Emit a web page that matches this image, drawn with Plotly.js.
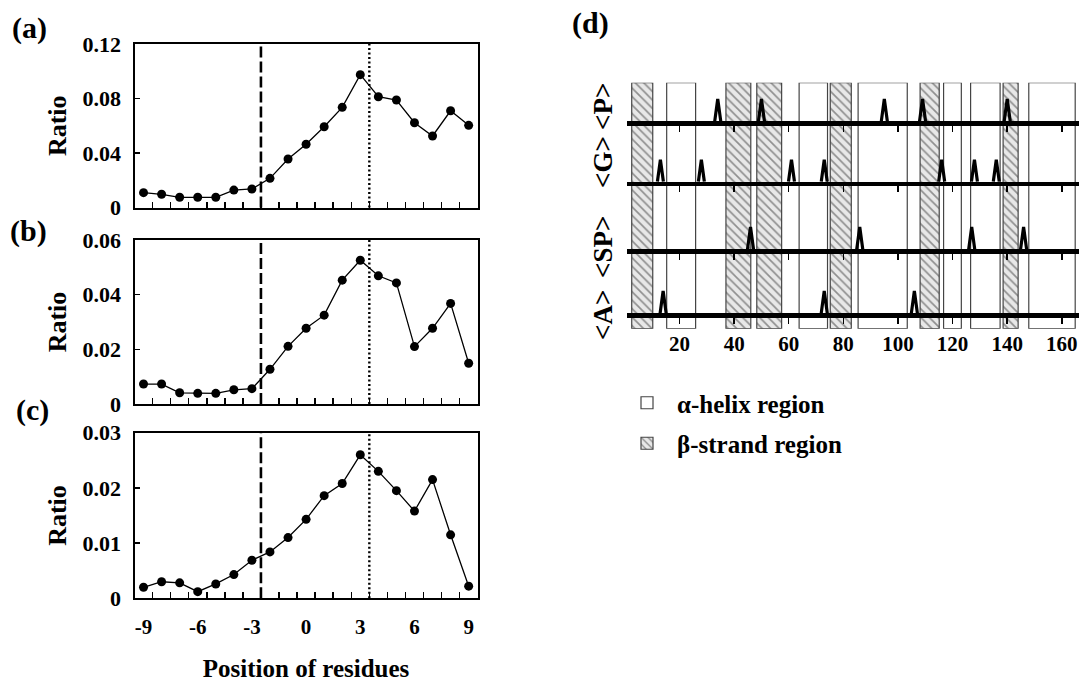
<!DOCTYPE html>
<html><head><meta charset="utf-8">
<script src="https://cdn.plot.ly/plotly-3.0.1.min.js"></script>
<style>html,body{margin:0;padding:0;background:#fff}#chart{width:1085px;height:682px}</style>
</head><body><div id="chart"></div>
<script>
// ---- Panels (a)-(c): ratio vs position of residues ----
const positions = [-9,-8,-7,-6,-5,-4,-3,-2,-1,0,1,2,3,4,5,6,7,8,9];
const ratioA = [0.0109,0.0097,0.0075,0.0075,0.0075,0.0128,0.0136,0.0214,0.0356,0.0464,0.0593,0.0735,0.0975,0.0813,0.0789,0.0622,0.0525,0.0710,0.0603];
const ratioB = [0.0073,0.0073,0.0041,0.0039,0.0039,0.0052,0.0056,0.0127,0.0211,0.0277,0.0325,0.0453,0.0526,0.0469,0.0443,0.0210,0.0277,0.0368,0.0149];
const ratioC = [0.0020,0.0030,0.0028,0.0012,0.0026,0.0043,0.0069,0.0084,0.0110,0.0143,0.0186,0.0208,0.0260,0.0230,0.0195,0.0158,0.0215,0.0115,0.0022];
const boundaryDashed = -2.5;
const boundaryDotted = 3.5;
const xTickVals = [-9,-6,-3,0,3,6,9];
const xTickText = ['-9','-6','-3','0','3','6','9'];
const xMinorTicks = [-8.5,-7.5,-6.5,-5.5,-4.5,-3.5,-2.5,-1.5,-0.5,0.5,1.5,2.5,3.5,4.5,5.5,6.5,7.5,8.5];
const yTicksA = [0,0.04,0.08,0.12], yTextA = ['0','0.04','0.08','0.12'];
const yTicksB = [0,0.02,0.04,0.06], yTextB = ['0','0.02','0.04','0.06'];
const yTicksC = [0,0.01,0.02,0.03], yTextC = ['0','0.01','0.02','0.03'];

// ---- Panel (d): secondary structure and peak positions ----
const helixStart = [15.3,63.8,85.4,116.7,126.6,147.9];
const helixEnd   = [25.9,74.2,103.4,123.2,137.4,164.9];
const strandStart = [2.5,37.0,48.3,75.2,108.1,138.5];
const strandEnd   = [10.2,46.1,57.4,82.9,115.1,144.0];
const peaksP  = [34,50,95,109,140];
const peaksG  = [13,28,61,73,116,128,136];
const peaksSP = [46,86,127,146];
const peaksA  = [14,73,106];
const rowLabels = ['<P>','<G>','<SP>','<A>'];
const dTickVals = [20,40,60,80,100,120,140,160];

// ---- helpers / layout geometry ----
const W = 1085, H = 682;
const px = v => v / W, py = v => 1 - v / H;
const FONT = 'Liberation Serif, Times New Roman, serif';

const xDomLeft = [px(134.5), px(477.7)];
const panelY = [[py(207.5), py(44)], [py(404), py(240)], [py(598.3), py(432.7)]];
const dX = [px(626.7), px(1079.3)];
const dRange = [0.66, 166.4];
const baselines = [123.3, 184, 251.3, 315.3];

const traces = [];
const series = [ratioA, ratioB, ratioC];
series.forEach((s, i) => {
  const sfx = i === 0 ? '' : String(i + 1);
  traces.push({x: positions, y: s, xaxis: 'x' + sfx, yaxis: 'y' + sfx, type: 'scatter',
    mode: 'lines+markers', line: {color: 'black', width: 1.3}, marker: {color: 'black', size: 9},
    showlegend: false, hoverinfo: 'skip'});
});

// bars for helix / strand regions (subplot x4/y4)
const mids = (a, b) => a.map((v, i) => (v + b[i]) / 2);
const widths = (a, b) => a.map((v, i) => b[i] - v);
traces.push({type: 'bar', name: 'α-helix region', legendgroup: 'h', x: mids(helixStart, helixEnd),
  width: widths(helixStart, helixEnd), y: helixStart.map(() => 1), base: 0, xaxis: 'x4', yaxis: 'y4',
  marker: {color: 'white', line: {color: '#444', width: 1.2}}, cliponaxis: false, hoverinfo: 'skip'});
traces.push({type: 'bar', name: 'β-strand region', legendgroup: 's', x: mids(strandStart, strandEnd),
  width: widths(strandStart, strandEnd), y: strandStart.map(() => 1), base: 0, xaxis: 'x4', yaxis: 'y4',
  marker: {color: '#e2e2e2', line: {color: '#444', width: 1.2},
    pattern: {shape: '\\', fgcolor: '#8f8f8f', bgcolor: '#e8e8e8', size: 6, solidity: 0.28}},
  cliponaxis: false, hoverinfo: 'skip'});

// spike rows (subplots x5..x8)
const spikeHalfW = 1.1, spikeH = 0.74;
[peaksP, peaksG, peaksSP, peaksA].forEach((peaks, r) => {
  const xs = [], ys = [];
  peaks.forEach(p => { xs.push(p - spikeHalfW, p, p + spikeHalfW, null); ys.push(0, spikeH, 0, null); });
  traces.push({x: xs, y: ys, xaxis: 'x' + (5 + r), yaxis: 'y' + (5 + r), type: 'scatter', mode: 'lines',
    line: {color: 'black', width: 3.2}, showlegend: false, hoverinfo: 'skip', cliponaxis: false});
});

const layout = {
  width: W, height: H, margin: {l: 0, r: 0, t: 0, b: 0},
  paper_bgcolor: 'white', plot_bgcolor: 'rgba(0,0,0,0)',
  font: {family: FONT, size: 22, color: 'black', weight: 'bold'},
  barmode: 'overlay', showlegend: true,
  legend: {x: px(617), y: py(380), xanchor: 'left', yanchor: 'top', font: {family: FONT, size: 25, weight: 'bold'},
    bgcolor: 'rgba(0,0,0,0)', tracegroupgap: 5, traceorder: 'grouped', itemwidth: 50},
  shapes: [], annotations: []
};

const yTicks = [[yTicksA, yTextA, [0, 0.12]], [yTicksB, yTextB, [0, 0.06]], [yTicksC, yTextC, [0, 0.03]]];
for (let i = 0; i < 3; i++) {
  const sfx = i === 0 ? '' : String(i + 1);
  layout['xaxis' + sfx] = {domain: xDomLeft, range: [-9.5, 9.5], anchor: 'y' + sfx,
    showline: true, mirror: true, linewidth: 2, linecolor: 'black', showgrid: false, zeroline: false,
    tickmode: 'array', tickvals: xTickVals, ticktext: xTickText, ticks: '',
    showticklabels: i === 2, tickfont: {family: FONT, size: 21, weight: 'bold'}, ticklabelstandoff: 8,
    minor: {tickmode: 'array', tickvals: xMinorTicks, ticks: 'inside', ticklen: 6, tickwidth: 1.5, tickcolor: 'black', showgrid: false}};
  layout['yaxis' + sfx] = {domain: panelY[i], range: yTicks[i][2], anchor: 'x' + sfx,
    showline: true, mirror: true, linewidth: 2, linecolor: 'black', showgrid: false, zeroline: false,
    tickmode: 'array', tickvals: yTicks[i][0], ticktext: yTicks[i][1], ticks: 'inside', ticklen: 5, tickwidth: 1.5,
    tickcolor: 'black', tickfont: {family: FONT, size: 22, weight: 'bold'}, ticklabelstandoff: 7,
    title: {text: 'Ratio', font: {family: FONT, size: 26, weight: 'bold'}, standoff: 8}};
  layout.shapes.push({type: 'line', xref: 'x' + sfx, yref: 'y' + sfx + ' domain', x0: boundaryDashed, x1: boundaryDashed,
    y0: 0, y1: 1, line: {color: 'black', width: 2.6, dash: '11px,4px'}});
  layout.shapes.push({type: 'line', xref: 'x' + sfx, yref: 'y' + sfx + ' domain', x0: boundaryDotted, x1: boundaryDotted,
    y0: 0, y1: 1, line: {color: 'black', width: 2.4, dash: '2px,2.5px'}});
}
layout.xaxis3.title = {text: 'Position of residues', font: {family: FONT, size: 25, weight: 'bold'}, standoff: 24};

// panel (d) region bars axis
layout.xaxis4 = {domain: dX, range: dRange, anchor: 'y4', visible: false};
layout.yaxis4 = {domain: [py(328.7), py(82.7)], range: [0, 1], anchor: 'x4', visible: false};
// rows
baselines.forEach((b, r) => {
  const n = 5 + r;
  layout['xaxis' + n] = {domain: dX, range: dRange, anchor: 'y' + n, showline: true, linewidth: 4.5, linecolor: 'black',
    showgrid: false, zeroline: false, tickmode: 'array', tickvals: dTickVals, ticks: 'outside', ticklen: 6, tickwidth: 1.5,
    tickcolor: 'black', showticklabels: r === 3, tickfont: {family: FONT, size: 21, weight: 'bold'}, ticklabelstandoff: 2};
  layout['yaxis' + n] = {domain: [py(b - 2.2), py(b - 32.2)], range: [0, 1], anchor: 'x' + n, visible: false};
});

// panel labels
[['(a)', 29, 28], ['(b)', 28, 231], ['(c)', 32, 410], ['(d)', 590, 23]].forEach(([t, x, y]) => {
  layout.annotations.push({text: t, xref: 'paper', yref: 'paper', x: px(x), y: py(y), xanchor: 'center', yanchor: 'middle',
    showarrow: false, font: {family: FONT, size: 30, weight: 'bold'}});
});
// row labels
const rowLabelY = [107, 162, 247, 315];
rowLabels.forEach((t, r) => {
  layout.annotations.push({text: t.replace(/</g, '&lt;').replace(/>/g, '&gt;'), xref: 'paper', yref: 'paper', x: px(603), y: py(rowLabelY[r]),
    xanchor: 'center', yanchor: 'middle', textangle: -90, showarrow: false, font: {family: FONT, size: 27, weight: 'bold'}});
});

Plotly.newPlot('chart', traces, layout, {staticPlot: true, displayModeBar: false});
</script>
</body></html>
